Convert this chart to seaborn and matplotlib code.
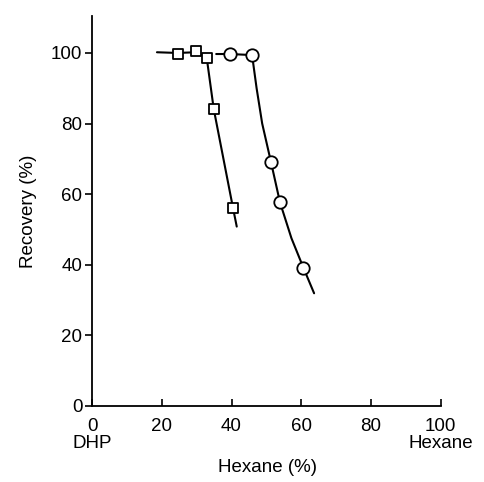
import matplotlib
matplotlib.use("Agg")
import matplotlib.pyplot as plt
import seaborn as sns
import pandas as pd

# measured points (hexane %, recovery %)
square_x = [24.5, 29.7, 32.9, 34.9, 40.4]
square_y = [99.8, 100.5, 98.5, 84.1, 56.2]
circle_x = [39.6, 45.9, 51.3, 53.9, 60.6]
circle_y = [99.7, 99.4, 69.2, 57.7, 39.2]

# hand-drawn fit curves
sq_curve_x = [18.6, 24.5, 29.7, 32.9, 34.9, 40.4, 41.5]
sq_curve_y = [100.2, 100.0, 100.2, 98.5, 84.1, 56.2, 50.8]
ci_curve_x = [35.6, 39.6, 45.9, 47.2, 48.8, 51.3, 53.9, 57.2, 60.6, 63.7]
ci_curve_y = [99.7, 99.7, 99.4, 90.0, 80.0, 69.2, 57.7, 47.5, 39.2, 31.9]

xticks = [0, 20, 40, 60, 80, 100]
xtick_labels = ["0\nDHP", "20", "40", "60", "80", "100\nHexane"]
yticks = [0, 20, 40, 60, 80, 100]

sns.set_style("ticks")
plt.rcParams["font.family"] = ["Liberation Sans", "DejaVu Sans"]
plt.rcParams["text.color"] = "black"
plt.rcParams["axes.labelcolor"] = "black"
plt.rcParams["xtick.color"] = "black"
plt.rcParams["ytick.color"] = "black"

fig = plt.figure(figsize=(4.85, 4.82), dpi=100)
ax = fig.add_axes([0.19, 0.158, 0.722, 0.809])

sq_curve = pd.DataFrame({"x": sq_curve_x, "y": sq_curve_y})
ci_curve = pd.DataFrame({"x": ci_curve_x, "y": ci_curve_y})
sns.lineplot(data=sq_curve, x="x", y="y", ax=ax, color="black", lw=1.5, sort=False)
sns.lineplot(data=ci_curve, x="x", y="y", ax=ax, color="black", lw=1.5, sort=False)

sq = pd.DataFrame({"x": square_x, "y": square_y})
ci = pd.DataFrame({"x": circle_x, "y": circle_y})
sns.scatterplot(data=sq, x="x", y="y", ax=ax, marker="s", s=60,
                facecolor="white", edgecolor="black", linewidth=1.3, zorder=3)
sns.scatterplot(data=ci, x="x", y="y", ax=ax, marker="o", s=80,
                facecolor="white", edgecolor="black", linewidth=1.3, zorder=3)

ax.set_xlim(0, 100.5)
ax.set_ylim(0, 110.5)
ax.set_xticks(xticks)
ax.set_xticklabels(xtick_labels, fontsize=13.5, linespacing=1.0)
ax.set_yticks(yticks)
ax.set_yticklabels([str(t) for t in yticks], fontsize=13.5)
ax.tick_params(axis="x", direction="in", length=5, width=1.2, pad=9)
ax.tick_params(axis="y", direction="out", length=5, width=1.2, pad=2)

for side in ["top", "right"]:
    ax.spines[side].set_visible(False)
for side in ["left", "bottom"]:
    ax.spines[side].set_linewidth(1.3)
    ax.spines[side].set_color("black")
ax.spines["bottom"].set_bounds(0, 100)

ax.set_xlabel("Hexane (%)", fontsize=13.5, labelpad=5)
ax.set_ylabel("Recovery (%)", fontsize=13.5, labelpad=10)

fig.savefig("out.png", dpi=100, facecolor="white")
